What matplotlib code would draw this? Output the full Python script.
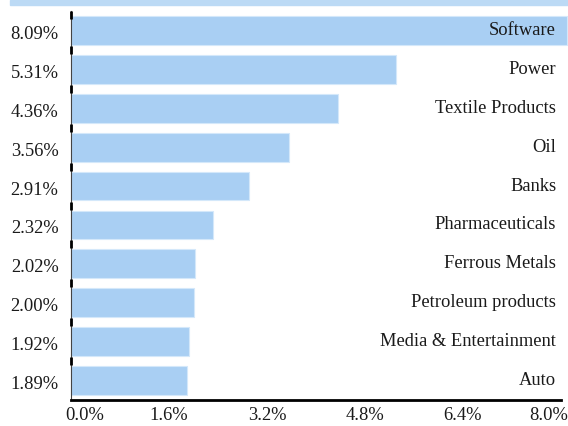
import numpy as np
import matplotlib
matplotlib.use("Agg")
import matplotlib.pyplot as plt
import matplotlib.transforms as mtransforms
from matplotlib.patches import Rectangle

# data
sectors = ["Software", "Power", "Textile Products", "Oil", "Banks",
           "Pharmaceuticals", "Ferrous Metals", "Petroleum products",
           "Media & Entertainment", "Auto"]
weights = [8.09, 5.31, 4.36, 3.56, 2.91, 2.32, 2.02, 2.00, 1.92, 1.89]
x_ticks = [0.0, 1.6, 3.2, 4.8, 6.4, 8.0]

bar_color = "#a9cff3"
band_color = "#bcdaf5"
text_color = "#1a1a1a"

plt.rcParams["font.family"] = ["Liberation Serif", "DejaVu Serif"]
plt.rcParams["font.size"] = 13.3

fig = plt.figure(figsize=(5.68, 4.26), dpi=100)
ax = fig.add_axes([71 / 568, 1 - 400 / 426, (561 - 71) / 568, (400 - 11) / 426])

# light band along the top edge
fig.patches.append(Rectangle((10 / 568, 1 - 5 / 426), 1, 5 / 426,
                             transform=fig.transFigure, color=band_color, zorder=0))

y = np.arange(len(sectors))
ax.barh(y, weights, height=0.74, color=bar_color, edgecolor="#d4e8fa",
        linewidth=0.8, clip_on=False, zorder=2)

ax.set_xlim(0, 8.0)
ax.set_ylim(len(sectors) - 0.5, -0.5)

# value labels on the left as y tick labels
ax.set_yticks(y)
ax.set_yticklabels([f"{w:.2f}%" for w in weights], color=text_color)
ax.tick_params(axis="y", length=0, pad=9)
for lab in ax.get_yticklabels():
    lab.set_transform(lab.get_transform() +
                      mtransforms.ScaledTranslation(0, -2 / 100, fig.dpi_scale_trans))

# sector names inside the plot, right aligned
trans = mtransforms.blended_transform_factory(ax.transAxes, ax.transData)
for yi, name in zip(y, sectors):
    ax.text(0.99, yi, name, transform=trans, ha="right", va="center",
            color=text_color, zorder=3)

ax.set_xticks(x_ticks)
ax.set_xticklabels([f"{t:.1f}%" for t in x_ticks], color=text_color)
ax.tick_params(axis="x", length=0, pad=5)
labels = ax.get_xticklabels()
labels[0].set_transform(labels[0].get_transform() +
                        mtransforms.ScaledTranslation(14 / 100, 0, fig.dpi_scale_trans))
labels[-1].set_transform(labels[-1].get_transform() +
                         mtransforms.ScaledTranslation(-12 / 100, 0, fig.dpi_scale_trans))

for side in ["top", "right"]:
    ax.spines[side].set_visible(False)
ax.spines["left"].set_color("#444444")
ax.spines["left"].set_linewidth(0.8)
ax.spines["bottom"].set_color("black")
ax.spines["bottom"].set_linewidth(2)

# short black marks on the left axis between categories
bounds = np.arange(len(sectors)) - 0.5
bounds[0] += 0.09
ax.plot(np.zeros_like(bounds), bounds, linestyle="none", marker="|",
        markersize=6, markeredgewidth=2, color="black", clip_on=False, zorder=4)

fig.savefig("out.png", dpi=100)
